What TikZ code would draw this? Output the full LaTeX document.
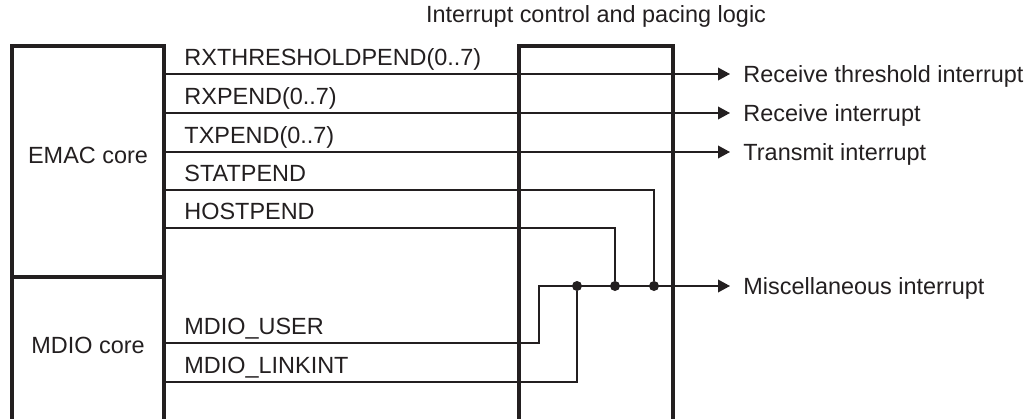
\documentclass[tikz,border=0pt]{standalone}
\usepackage{fontspec}
\setmainfont{Liberation Sans}
\usepackage{tikz}
\usetikzlibrary{arrows.meta,positioning}
\definecolor{ink}{RGB}{35,31,32}

\begin{document}
\begin{tikzpicture}[
x=0.15mm, y=-0.15mm,
font=\fontsize{10}{12}\selectfont,
blockline/.style={line width=1.3pt,draw=ink},
sigline/.style={line width=0.65pt,draw=ink},
sigarrow/.style={sigline,-{Triangle[length=1.8mm,width=1.9mm]}},
siglabel/.style={anchor=base west,inner sep=0pt,text=ink},
junction/.style={circle,fill=ink,inner sep=0pt,minimum size=1.5mm}]
    \useasboundingbox (0,0) rectangle (1031,419);

    % Draw blocks
    \draw[blockline] (12,430) -- (12,46) -- (164,46) -- (164,430);
    \draw[blockline] (12,277) -- (164,277);
    \draw[blockline] (519,430) |- (673,46) -- (673,430);
    \node (emac) at (88,155) [text=ink] {EMAC core};
    \node (mdio) at (88,345) [text=ink] {MDIO core};
    \node (title) at (596,23) [anchor=base,text=ink] {Interrupt control and pacing logic};

    % Signals out of the cores
    \foreach \y/\n/\t in {74/rxthresh/RXTHRESHOLDPEND(0..7),
                          113/rxpend/RXPEND(0..7),
                          152/txpend/TXPEND(0..7),
                          190/statpend/STATPEND,
                          228/hostpend/HOSTPEND,
                          343/user/MDIO\_USER,
                          382/linkint/MDIO\_LINKINT}{
        \coordinate (s-\n) at (164,\y);
        \node (l-\n) at (184,\y-9) [siglabel] {\t};
    }

    % Direct interrupts
    \foreach \y/\n/\t in {74/rxthresh/Receive threshold interrupt,
                          113/rxpend/Receive interrupt,
                          152/txpend/Transmit interrupt}{
        \coordinate (o-\n) at (730,\y);
        \draw[sigarrow] (s-\n) -- (o-\n);
        \node (r-\n) at (743,\y+8) [siglabel] {\t};
    }

    % Miscellaneous interrupt
    \coordinate (knee) at (539,286);
    \coordinate (o-misc) at (730,286);
    \node (j-linkint) at (577,286) [junction] {};
    \node (j-hostpend) at (615,286) [junction] {};
    \node (j-statpend) at (654,286) [junction] {};
    \draw[sigarrow] (s-user) -| (knee) -- (o-misc);
    \draw[sigline] (s-statpend) -| (j-statpend);
    \draw[sigline] (s-hostpend) -| (j-hostpend);
    \draw[sigline] (s-linkint) -| (j-linkint);
    \node (r-misc) at (743,294) [siglabel] {Miscellaneous interrupt};

\end{tikzpicture}
\end{document}
